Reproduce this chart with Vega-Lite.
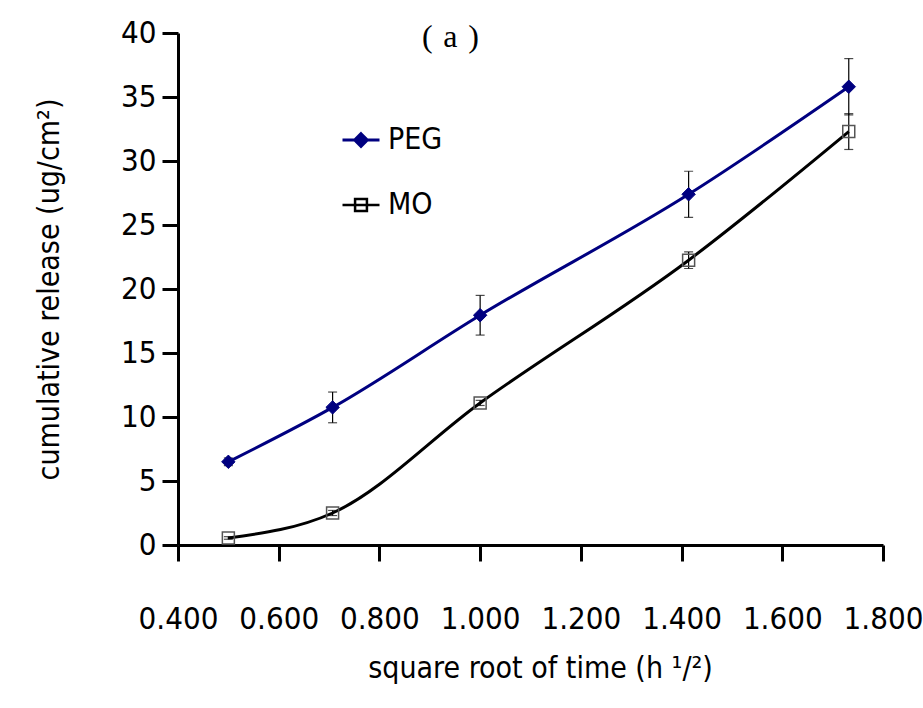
{
  "$schema": "https://vega.github.io/schema/vega-lite/v6.json",
  "width": 705,
  "height": 512,
  "autosize": "none",
  "padding": {"left": 178, "top": 33, "right": 40, "bottom": 163},
  "background": "white",
  "title": {
    "text": "(\u2004a\u2004)",
    "anchor": "start",
    "frame": "group",
    "dx": 244,
    "offset": -37,
    "font": "Liberation Serif",
    "fontSize": 32,
    "fontWeight": "normal",
    "color": "black"
  },
  "config": {
    "view": {"stroke": null},
    "axis": {
      "grid": false,
      "domainColor": "black",
      "domainWidth": 3,
      "tickColor": "black",
      "tickWidth": 3,
      "tickSize": 16,
      "labelFont": "DejaVu Sans Condensed",
      "labelFontSize": 31,
      "labelColor": "black",
      "labelFlush": false,
      "titleFont": "DejaVu Sans Condensed",
      "titleFontSize": 30,
      "titleFontWeight": "normal",
      "titleColor": "black"
    }
  },
  "data": {
    "values": [
      {"series": "PEG", "x": 0.5, "y": 6.5, "err": 0.3},
      {"series": "PEG", "x": 0.707, "y": 10.75, "err": 1.2},
      {"series": "PEG", "x": 1.0, "y": 17.95, "err": 1.55},
      {"series": "PEG", "x": 1.414, "y": 27.4, "err": 1.8},
      {"series": "PEG", "x": 1.732, "y": 35.8, "err": 2.2},
      {"series": "MO", "x": 0.5, "y": 0.55, "err": 0.1},
      {"series": "MO", "x": 0.707, "y": 2.5, "err": 0.2},
      {"series": "MO", "x": 1.0, "y": 11.1, "err": 0.2},
      {"series": "MO", "x": 1.414, "y": 22.25, "err": 0.65},
      {"series": "MO", "x": 1.732, "y": 32.3, "err": 1.4}
    ]
  },
  "encoding": {
    "x": {
      "field": "x",
      "type": "quantitative",
      "scale": {"domain": [0.4, 1.8], "nice": false, "zero": false},
      "axis": {
        "values": [0.4, 0.6, 0.8, 1.0, 1.2, 1.4, 1.6, 1.8],
        "format": ".3f",
        "labelPadding": 43,
        "title": "square root of time (h ¹/²)",
        "titlePadding": 19,
        "titleX": 362
      }
    }
  },
  "layer": [
    {
      "mark": {"type": "errorbar", "ticks": {"size": 9, "color": "black", "thickness": 1.2}, "color": "black", "thickness": 1.2},
      "encoding": {
        "y": {
          "field": "y",
          "type": "quantitative",
          "scale": {"domain": [0, 40], "nice": false},
          "axis": {
            "values": [0, 5, 10, 15, 20, 25, 30, 35, 40],
            "labelPadding": 6,
            "title": "cumulative release (ug/cm²)",
            "titlePadding": 56
          }
        },
        "yError": {"field": "err"},
        "detail": {"field": "series"}
      }
    },
    {
      "mark": {"type": "line", "interpolate": "monotone", "strokeWidth": 3},
      "encoding": {
        "y": {"field": "y", "type": "quantitative"},
        "color": {
          "field": "series",
          "type": "nominal",
          "scale": {"domain": ["PEG", "MO"], "range": ["#000080", "black"]},
          "legend": {
            "title": null,
            "orient": "none",
            "legendX": 168,
            "legendY": 92,
            "labelFont": "DejaVu Sans Condensed",
            "labelFontSize": 30,
            "labelColor": "black",
            "labelOffset": 12,
            "rowPadding": 35,
            "symbolSize": 1369,
            "symbolStrokeWidth": 3,
            "encode": {
              "symbols": {
                "update": {
                  "shape": {"signal": "datum.value === 'PEG' ? 'M-1,0H1M0,-0.34L0.34,0L0,0.34L-0.34,0Z' : 'M-1,0H1M-0.32,-0.32H0.32V0.32H-0.32Z'"},
                  "fill": {"signal": "datum.value === 'PEG' ? '#000080' : 'white'"},
                  "stroke": {"signal": "datum.value === 'PEG' ? '#000080' : 'black'"},
                  "strokeWidth": {"signal": "datum.value === 'PEG' ? 3 : 2.5"}
                }
              }
            }
          }
        }
      }
    },
    {
      "transform": [{"filter": "datum.series === 'PEG'"}],
      "mark": {"type": "point", "shape": "diamond", "size": 180, "filled": true, "fill": "#000080", "stroke": "#000080", "strokeWidth": 1, "opacity": 1},
      "encoding": {
        "y": {"field": "y", "type": "quantitative"}
      }
    },
    {
      "transform": [{"filter": "datum.series === 'MO'"}],
      "mark": {"type": "point", "shape": "square", "size": 144, "filled": false, "fill": "transparent", "stroke": "#555555", "strokeWidth": 1.5, "opacity": 1},
      "encoding": {
        "y": {"field": "y", "type": "quantitative"}
      }
    }
  ]
}
